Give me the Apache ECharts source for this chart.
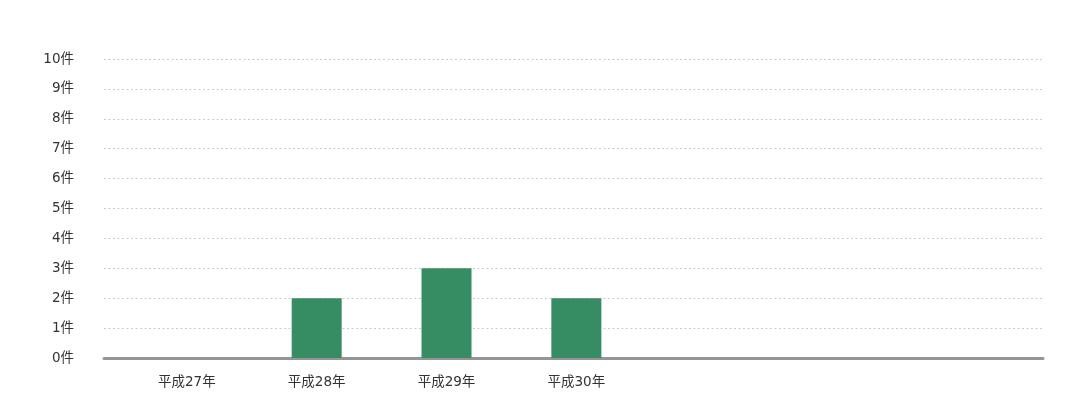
<!DOCTYPE html>
<html><head><meta charset="utf-8">
<script src="https://cdn.jsdelivr.net/npm/echarts@6/dist/echarts.min.js"></script>
<style>html,body{margin:0;padding:0;background:#fff}#c{width:1080px;height:420px}</style>
</head><body><div id="c"></div>
<script>
const categories = ['平成27年', '平成28年', '平成29年', '平成30年'];
const values = [0, 2, 3, 2];
const yTicks = [0, 1, 2, 3, 4, 5, 6, 7, 8, 9, 10];
const yUnit = '件';

const chart = echarts.init(document.getElementById('c'));
const font = '"DejaVu Sans", "Noto Sans CJK JP", sans-serif';
chart.setOption({
  animation: false,
  grid: { left: 104, right: 37, top: 59, bottom: 62, containLabel: false },
  xAxis: {
    type: 'value',
    min: -0.638, max: 6.594,
    splitLine: { show: false },
    axisTick: { show: false },
    axisLine: { show: true, lineStyle: { color: '#959595', width: 3 } },
    axisLabel: {
      customValues: categories.map((c, i) => i),
      formatter: v => categories[Math.round(v)] || '',
      color: '#333', fontSize: 13.5, fontFamily: font, margin: 18
    }
  },
  yAxis: {
    type: 'value', min: 0, max: 10, interval: 1,
    axisLine: { show: false }, axisTick: { show: false },
    axisLabel: {
      formatter: v => yTicks.includes(v) ? v + yUnit : '',
      color: '#333', fontSize: 13.5, fontFamily: font, margin: 30
    },
    splitLine: { lineStyle: { color: '#cccccc', width: 1.2, type: [2, 2.5] } }
  },
  series: [{
    type: 'bar',
    barWidth: 50,
    itemStyle: { color: '#378d63' },
    data: values.map((v, i) => [i, v])
  }]
});
</script></body></html>
